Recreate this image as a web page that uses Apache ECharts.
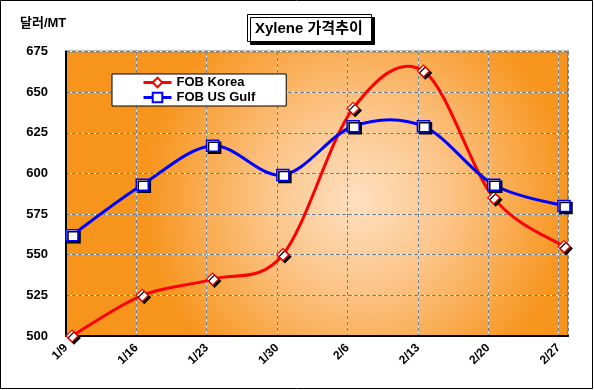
<!DOCTYPE html>
<html>
<head>
<meta charset="utf-8">
<script src="https://cdn.jsdelivr.net/npm/echarts@6/dist/echarts.min.js"></script>
<style>
html,body{margin:0;padding:0;background:#fff;}
#c{width:594px;height:390px;}
</style>
</head>
<body>
<div id="c"></div>
<script>
const dates = ['1/9','1/16','1/23','1/30','2/6','2/13','2/20','2/27'];
const fobKorea = [500, 525, 535, 550, 640, 663, 585, 555];
const fobUsGulf = [562, 593, 617, 599, 629, 629, 593, 580];
const yTicks = [500, 525, 550, 575, 600, 625, 650, 675];

const FONT = "'Liberation Sans', 'Noto Sans CJK KR', sans-serif";
const chart = echarts.init(document.getElementById('c'), null, {renderer:'canvas'});

const yMin = yTicks[0], yMax = yTicks[yTicks.length-1], yStep = yTicks[1]-yTicks[0];

// Excel-like smoothed curve (Catmull-Rom -> cubic Bezier), drawn through the axis scales
function smoothRenderer(values, color) {
  return function (params, api) {
    const i = params.dataIndex;
    const n = values.length;
    if (i >= n - 1) return {type: 'group', children: []};
    const P = k => api.coord([Math.max(0, Math.min(n - 1, k)), values[Math.max(0, Math.min(n - 1, k))]]);
    const p0 = P(i - 1), p1 = P(i), p2 = P(i + 1), p3 = P(i + 2);
    const t = 1 / 6;
    return {
      type: 'bezierCurve',
      shape: {
        x1: p1[0], y1: p1[1], x2: p2[0], y2: p2[1],
        cpx1: p1[0] + (p2[0] - p0[0]) * t, cpy1: p1[1] + (p2[1] - p0[1]) * t,
        cpx2: p2[0] - (p3[0] - p1[0]) * t, cpy2: p2[1] - (p3[1] - p1[1]) * t
      },
      style: {stroke: color, lineWidth: 3, fill: null, lineCap: 'round'}
    };
  };
}

chart.setOption({
  animation: false,
  backgroundColor: '#fff',
  title: {
    text: 'Xylene 가격추이',
    left: 247, top: 14,
    padding: [7, 9, 6, 8],
    backgroundColor: '#fff',
    borderColor: '#000', borderWidth: 1,
    shadowColor: '#000', shadowOffsetX: 3, shadowOffsetY: 3, shadowBlur: 0,
    textStyle: {fontFamily: FONT, fontSize: 15, fontWeight: 'bold', color: '#000'}
  },
  legend: {
    orient: 'vertical',
    left: 112, top: 74,
    padding: [2, 31, 2, 30],
    itemGap: 2,
    itemWidth: 28, itemHeight: 12,
    backgroundColor: '#fff',
    borderColor: '#000', borderWidth: 1,
    textStyle: {fontFamily: FONT, fontSize: 13, fontWeight: 'bold', color: '#000'},
    itemStyle: {shadowColor: 'rgba(0,0,0,0)'},
    lineStyle: {opacity: 1, width: 3},
    data: ['FOB Korea', 'FOB US Gulf']
  },
  grid: {
    left: 66, right: 26, top: 51.5, bottom: 54,
    show: true,
    backgroundColor: {
      type: 'radial', x: 0.58, y: 0.52, r: 0.75,
      colorStops: [
        {offset: 0, color: '#FEE0C0'},
        {offset: 0.4, color: '#FCC68C'},
        {offset: 1, color: '#F7941C'}
      ]
    },
    borderColor: '#808080', borderWidth: 2
  },
  xAxis: [
    {
      type: 'value', min: -0.0853, max: 7.057, show: false, position: 'bottom',
      axisLine: {onZero: false}
    },
    {
      type: 'value', min: 0, max: 7.134, interval: 1, position: 'bottom',
      axisLine: {show: true, onZero: false, lineStyle: {color: '#000', width: 2}},
      axisTick: {show: false},
      splitLine: {show: true, lineStyle: {color: '#ffffff', width: 1}},
      axisLabel: {
        rotate: 45, margin: 10,
        fontFamily: FONT, fontSize: 12, fontWeight: 'bold', color: '#000',
        formatter: v => (Number.isInteger(v) && dates[v]) ? dates[v] : ''
      }
    },
    {
      type: 'value', min: 0, max: 7.134, interval: 1, position: 'bottom',
      axisLine: {show: false, onZero: false}, axisTick: {show: false}, axisLabel: {show: false},
      splitLine: {show: true, lineStyle: {color: '#808080', width: 1, type: [4, 2]}}
    }
  ],
  yAxis: [
    {
      type: 'value', min: yMin, max: yMax, interval: yStep, position: 'left',
      axisLine: {show: true, onZero: false, lineStyle: {color: '#000', width: 2}},
      axisTick: {show: false},
      splitLine: {show: true, lineStyle: {color: '#ffffff', width: 1}},
      axisLabel: {margin: 18, fontFamily: FONT, fontSize: 13, fontWeight: 'bold', color: '#000'}
    },
    {
      type: 'value', min: yMin, max: yMax, interval: yStep, position: 'left',
      axisLine: {show: false, onZero: false}, axisTick: {show: false}, axisLabel: {show: false},
      splitLine: {show: true, lineStyle: {color: '#808080', width: 1, type: [4, 2]}}
    }
  ],
  graphic: [
    {type: 'rect', shape: {x: 0.5, y: 0.5, width: 592, height: 388}, style: {fill: 'none', stroke: '#000', lineWidth: 1}, z: 100},
    {type: 'text', left: 20, top: 17, style: {text: '달러/MT', font: "bold 13px 'Liberation Sans', 'Noto Sans CJK KR', sans-serif", fill: '#000'}}
  ],
  series: [
    {
      type: 'custom', name: 'koreaCurve', xAxisIndex: 0, yAxisIndex: 0,
      data: fobKorea.map((v, i) => [i, v]),
      encode: {x: 0, y: 1},
      renderItem: smoothRenderer(fobKorea, '#FF0000'),
      clip: false, silent: true, z: 2
    },
    {
      type: 'custom', name: 'gulfCurve', xAxisIndex: 0, yAxisIndex: 0,
      data: fobUsGulf.map((v, i) => [i, v]),
      encode: {x: 0, y: 1},
      renderItem: smoothRenderer(fobUsGulf, '#0000FF'),
      clip: false, silent: true, z: 2
    },
    {
      name: 'FOB Korea', type: 'line', xAxisIndex: 0, yAxisIndex: 0,
      data: fobKorea.map((v, i) => [i, v]),
      clip: false,
      lineStyle: {color: '#FF0000', width: 3, opacity: 0},
      symbol: 'diamond', symbolSize: [12, 12],
      itemStyle: {color: '#fff', borderColor: '#FF0000', borderWidth: 1.2,
        shadowColor: '#000', shadowOffsetX: 2, shadowOffsetY: 2, shadowBlur: 0},
      z: 3
    },
    {
      name: 'FOB US Gulf', type: 'line', xAxisIndex: 0, yAxisIndex: 0,
      data: fobUsGulf.map((v, i) => [i, v]),
      clip: false,
      lineStyle: {color: '#0000FF', width: 3, opacity: 0},
      symbol: 'rect', symbolSize: [12, 11],
      itemStyle: {color: '#fff', borderColor: '#0000FF', borderWidth: 1.5,
        shadowColor: '#000', shadowOffsetX: 2, shadowOffsetY: 2, shadowBlur: 0},
      z: 4
    }
  ]
});
</script>
</body>
</html>
